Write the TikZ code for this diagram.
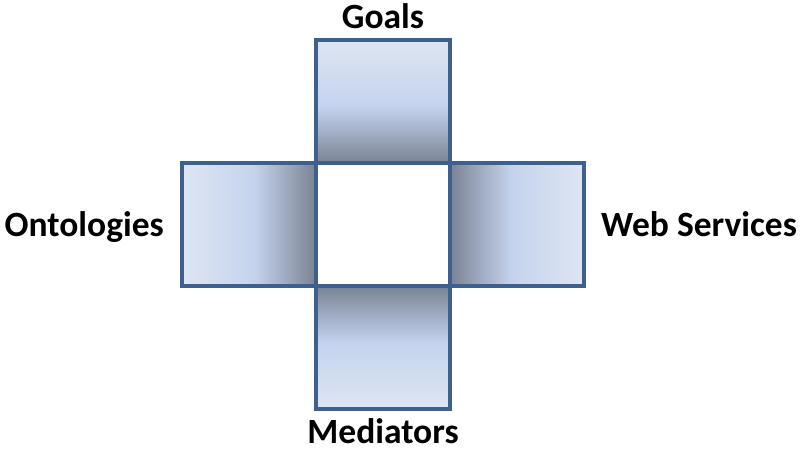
\documentclass[tikz,border=0pt]{standalone}
\usepackage{fontspec}
\setmainfont{Carlito}
\usetikzlibrary{positioning}
\definecolor{armborder}{RGB}{62,96,142}
\definecolor{armlight}{RGB}{222,229,243}
\definecolor{armmid}{RGB}{196,211,237}
\definecolor{armdark}{RGB}{122,131,148}
\pgfdeclarehorizontalshading{armfade}{100bp}{color(0bp)=(armlight); color(25bp)=(armlight); color(52bp)=(armmid); color(75bp)=(armdark); color(100bp)=(armdark)}

\begin{document}
\begin{tikzpicture}[node distance=0pt]
	\tikzset{
		mynode/.style={rectangle, draw=armborder, line width=3.2pt, minimum width=134pt, minimum height=123pt, inner sep=0pt, outer sep=0pt},
		myarm/.style={mynode, shading=armfade},
		mylabel/.style={inner sep=0pt, text=black, font=\fontsize{35.5}{40}\selectfont\bfseries}
	}
	\useasboundingbox (0,0) rectangle (800pt,-450pt);
	\node[mynode, fill=white] (hub) at (383pt,-224.5pt) {};
	\node[myarm, shading angle=-90, above=of hub] (goals) {};
	\node[myarm, shading angle=0, left=of hub] (onto) {};
	\node[myarm, shading angle=180, right=of hub] (ws) {};
	\node[myarm, shading angle=90, below=of hub] (med) {};

	\node[mylabel, above=12pt of goals, anchor=base] (goalsLabel) {Goals};
	\node[mylabel, below=34pt of med, anchor=base] (medLabel) {Mediators};
	\node[mylabel, anchor=base east] (ontoLabel) at ([xshift=-18pt, yshift=-11.5pt]onto.west) {Ontologies};
	\node[mylabel, anchor=base west] (wsLabel) at ([xshift=17pt, yshift=-11.5pt]ws.east) {Web Services};
\end{tikzpicture}
\end{document}
